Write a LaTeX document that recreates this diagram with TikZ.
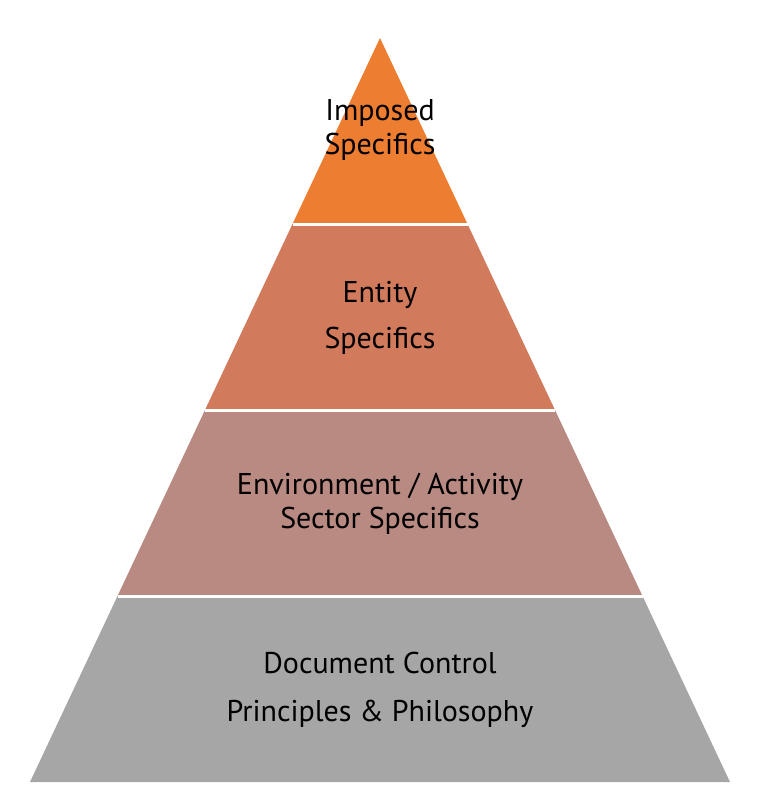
\documentclass[tikz,border=0pt]{standalone}
\usepackage{fontspec}
\setmainfont{PT Sans}
\usetikzlibrary{calc}
\definecolor{imposed}{HTML}{ED7D31}
\definecolor{entity}{HTML}{D27A5C}
\definecolor{sector}{HTML}{B98A82}
\definecolor{principles}{HTML}{A6A6A6}
\tikzset{gap/.style={white,line width=3pt}}
\tikzset{tiertext/.style={black,align=center,font=\fontsize{30}{34}\selectfont}}

\begin{document}
\begin{tikzpicture}[x=1pt,y=-1pt]
            \useasboundingbox (0,0) rectangle (780,801);
            \coordinate (apex) at (380,38);
            \coordinate (bl) at (30,782);
            \coordinate (br) at (730,782);
            \coordinate (l1) at ($(apex)!0.25!(bl)$);
            \coordinate (r1) at ($(apex)!0.25!(br)$);
            \coordinate (l2) at ($(apex)!0.5!(bl)$);
            \coordinate (r2) at ($(apex)!0.5!(br)$);
            \coordinate (l3) at ($(apex)!0.75!(bl)$);
            \coordinate (r3) at ($(apex)!0.75!(br)$);
            \fill[imposed] (apex) -- (r1) -- (l1) -- cycle;
            \fill[entity] (l1) -- (r1) -- (r2) -- (l2) -- cycle;
            \fill[sector] (l2) -- (r2) -- (r3) -- (l3) -- cycle;
            \fill[principles] (l3) -- (r3) -- (br) -- (bl) -- cycle;
            \draw[gap] (l1) -- (r1);
            \draw[gap] (l2) -- (r2);
            \draw[gap] (l3) -- (r3);
            \node[tiertext] (imposedText) at (380,130) {Imposed\\Specifics};
            \node[tiertext] (entityText) at (380,318) {Entity\\[12pt]Specifics};
            \node[tiertext] (sectorText) at (380,504) {Environment / Activity\\Sector Specifics};
            \node[tiertext] (principlesText) at (380,690) {Document Control\\[14pt]Principles \& Philosophy};
            \end{tikzpicture}
\end{document}
